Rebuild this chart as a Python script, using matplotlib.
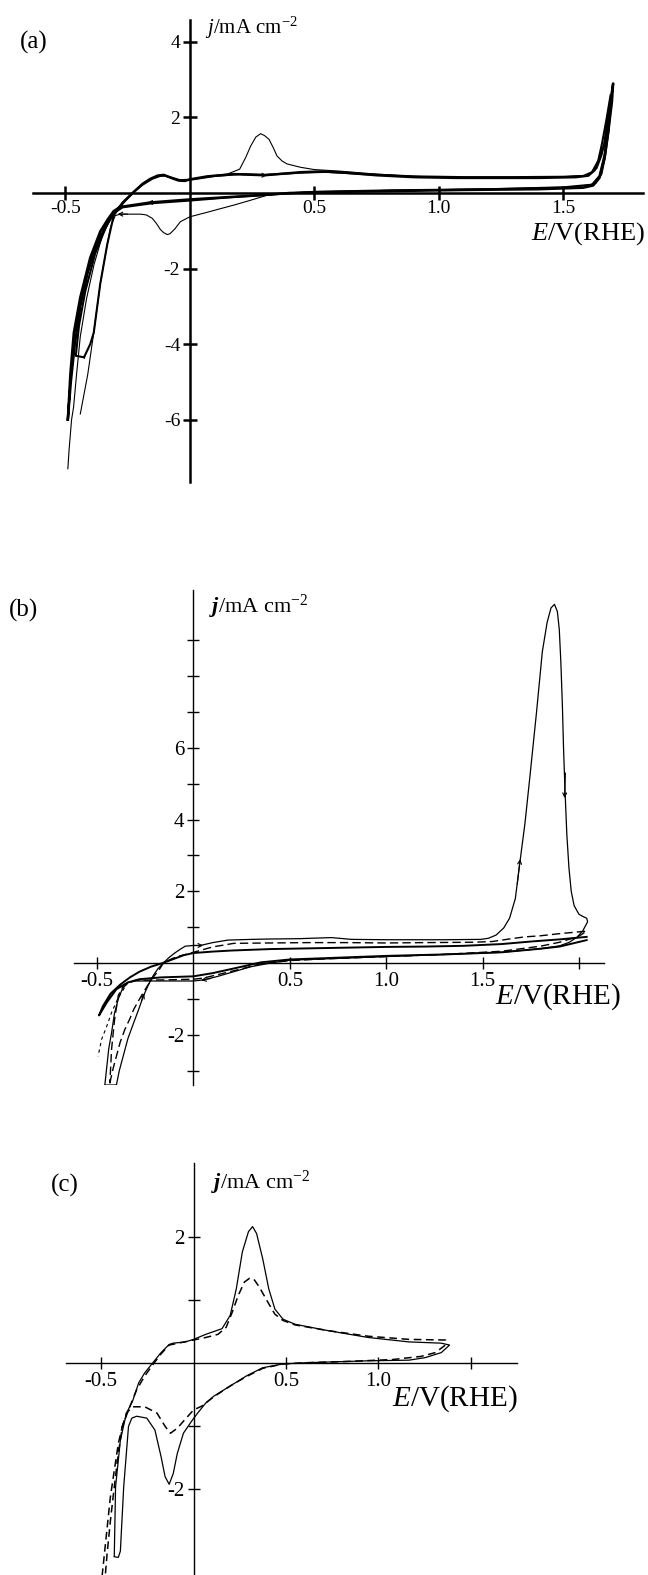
import matplotlib
matplotlib.use('Agg')
import matplotlib.pyplot as plt

plt.rcParams['font.family'] = ['Liberation Serif', 'DejaVu Serif']
plt.rcParams['mathtext.fontset'] = 'custom'
plt.rcParams['mathtext.rm'] = 'Liberation Serif'
plt.rcParams['mathtext.it'] = 'Liberation Serif:italic'
plt.rcParams['mathtext.bf'] = 'Liberation Serif:bold:italic'

# ---------------- panel (a) ----------------
# thick cycle 1 (anodic from left tip, then cathodic back)
a1_E = [-0.49, -0.478, -0.462, -0.44, -0.41, -0.37, -0.33, -0.30, -0.26, -0.225, -0.19, -0.16,
        -0.13, -0.105, -0.075, -0.045, -0.02, 0.0, 0.07, 0.177, 0.30, 0.445, 0.53, 0.62, 0.75,
        0.90, 1.07, 1.25, 1.40, 1.55, 1.60, 1.625, 1.645, 1.665, 1.68, 1.70,
        1.695, 1.68, 1.665, 1.645, 1.62, 1.58, 1.40, 1.10, 0.80, 0.50, 0.40, 0.284, 0.177,
        0.0, -0.158, -0.28, -0.306, -0.33, -0.36, -0.40, -0.44, -0.466, -0.48, -0.49]
a1_j = [-6.0, -5.0, -4.0, -3.0, -2.1, -1.3, -0.8, -0.5, -0.2, 0.03, 0.24, 0.37,
        0.46, 0.48, 0.40, 0.33, 0.32, 0.36, 0.44, 0.50, 0.47, 0.55, 0.57, 0.54, 0.47,
        0.42, 0.40, 0.40, 0.40, 0.42, 0.46, 0.6, 0.9, 1.3, 2.0, 2.9,
        2.4, 1.6, 0.9, 0.4, 0.2, 0.14, 0.10, 0.08, 0.05, 0.02, 0.0, -0.06, -0.10,
        -0.17, -0.25, -0.37, -0.48, -0.7, -1.02, -1.71, -2.76, -3.7, -4.8, -6.0]

# thick cycle 2 (turns at the kink near -4.3)
a2_E = [-0.425, -0.40, -0.386, -0.36, -0.332, -0.306, -0.27, -0.225, -0.19, -0.15, -0.12, -0.10,
        -0.07, -0.04, 0.0, 0.1, 0.2, 0.3, 0.45, 0.55, 0.7, 0.9, 1.1, 1.3, 1.5, 1.58, 1.615,
        1.64, 1.655, 1.672, 1.69,
        1.68, 1.665, 1.645, 1.615, 1.5, 1.2, 0.8, 0.5, 0.3, 0.15, 0.0, -0.15, -0.27, -0.31,
        -0.34, -0.38, -0.42, -0.445, -0.458, -0.425]
a2_j = [-4.35, -4.0, -3.7, -2.41, -1.37, -0.6, -0.25, 0.03, 0.22, 0.38, 0.45, 0.46,
        0.40, 0.34, 0.35, 0.45, 0.50, 0.48, 0.54, 0.56, 0.50, 0.44, 0.42, 0.42, 0.43, 0.45, 0.55,
        0.85, 1.3, 1.9, 2.6,
        1.8, 1.0, 0.45, 0.22, 0.15, 0.10, 0.07, 0.03, -0.05, -0.12, -0.2, -0.27, -0.38, -0.55,
        -0.95, -1.6, -2.6, -3.5, -4.31, -4.35]

# thin cycle with the sharp peaks
a3_E = [-0.49, -0.485, -0.475, -0.467, -0.455, -0.44, -0.415, -0.385, -0.35, -0.32, -0.29, -0.25,
        -0.225, -0.19, -0.15, -0.12, -0.10, -0.07, -0.035, 0.0, 0.07, 0.15, 0.2, 0.225, 0.244,
        0.265, 0.284, 0.30, 0.318, 0.335, 0.35, 0.37, 0.39, 0.445, 0.5, 0.6, 0.75, 0.9, 1.1,
        1.3, 1.5, 1.6, 1.635, 1.655, 1.672, 1.69,
        1.685, 1.67, 1.655, 1.63, 1.55, 1.2, 0.8, 0.5, 0.4, 0.31, 0.24, 0.177, 0.12, 0.07, 0.0,
        -0.038, -0.06, -0.08, -0.091, -0.105, -0.118, -0.135, -0.151, -0.175, -0.198, -0.28,
        -0.30, -0.318, -0.332, -0.36, -0.386, -0.41, -0.43, -0.44]
a3_j = [-7.3, -6.8, -6.0, -5.67, -4.8, -3.8, -2.8, -1.9, -1.1, -0.7, -0.4, -0.15,
        0.03, 0.25, 0.40, 0.46, 0.46, 0.39, 0.33, 0.36, 0.44, 0.5, 0.63, 0.95, 1.24,
        1.48, 1.57, 1.52, 1.42, 1.2, 0.98, 0.85, 0.77, 0.68, 0.62, 0.58, 0.5, 0.44, 0.41,
        0.41, 0.43, 0.47, 0.65, 1.0, 1.6, 2.4,
        1.7, 1.0, 0.5, 0.25, 0.16, 0.11, 0.07, 0.03, 0.0, -0.06, -0.2, -0.32, -0.42, -0.51, -0.63,
        -0.76, -0.95, -1.08, -1.10, -1.05, -0.97, -0.8, -0.67, -0.58, -0.56, -0.56,
        -0.6, -0.9, -1.37, -2.41, -3.7, -4.8, -5.5, -5.85]

# sweep-direction arrowheads (tail E, tail j, head E, head j)
a_arrows = [(0.27, 0.47, 0.31, 0.47), (-0.13, -0.24, -0.17, -0.26), (-0.25, -0.56, -0.29, -0.56)]

# ---------------- panel (b) ----------------
b1_E = [-0.40, -0.385, -0.365, -0.34, -0.31, -0.285, -0.26, -0.235, -0.21, -0.185, -0.156, -0.13,
        -0.10, -0.07, -0.043, 0.0, 0.035, 0.1, 0.178, 0.3, 0.393, 0.55, 0.715, 0.82, 1.0, 1.14,
        1.3, 1.49, 1.53, 1.57, 1.61, 1.64, 1.67, 1.69, 1.72, 1.745, 1.78, 1.81, 1.835, 1.855,
        1.873, 1.888, 1.898, 1.906, 1.914, 1.92, 1.927, 1.937, 1.948, 1.96, 1.975, 2.0, 2.02, 2.04,
        2.045, 2.02, 1.99, 1.95, 1.9, 1.8, 1.6, 1.4, 1.1, 0.8, 0.5, 0.4, 0.3, 0.21, 0.12, 0.05,
        0.0, -0.1, -0.2, -0.3, -0.34, -0.37, -0.39, -0.41, -0.425, -0.44, -0.45, -0.46, -0.40]
b1_j = [-3.4, -3.0, -2.6, -2.1, -1.66, -1.3, -0.92, -0.62, -0.36, -0.16, 0.0, 0.14,
        0.27, 0.38, 0.47, 0.49, 0.49, 0.57, 0.64, 0.66, 0.67, 0.68, 0.71, 0.66, 0.65, 0.65,
        0.65, 0.66, 0.69, 0.78, 0.98, 1.25, 1.8, 2.66, 3.9, 5.17, 7.0, 8.68, 9.5, 9.9,
        10.0, 9.8, 9.3, 8.4, 7.2, 6.0, 4.9, 3.6, 2.66, 2.0, 1.6, 1.36, 1.3, 1.25,
        1.15, 0.9, 0.72, 0.58, 0.48, 0.40, 0.30, 0.26, 0.2, 0.14, 0.08, 0.0, -0.1, -0.24, -0.38, -0.47,
        -0.5, -0.5, -0.5, -0.5, -0.54, -0.73, -1.0, -1.4, -1.94, -2.4, -2.9, -3.4, -3.4]

b2_E = [2.04, 1.9, 1.8, 1.6, 1.3, 1.0, 0.7, 0.5, 0.35, 0.21, 0.10, 0.0, -0.17, -0.28, -0.34,
        -0.40, -0.45, -0.49,
        -0.47, -0.43, -0.38, -0.33, -0.28, -0.22, -0.16, -0.10, -0.05, 0.0, 0.1, 0.2, 0.4, 0.6,
        0.8, 1.0, 1.2, 1.4, 1.6, 1.75, 1.9, 2.04]
b2_j = [0.64, 0.46, 0.40, 0.30, 0.24, 0.2, 0.14, 0.1, 0.02, -0.15, -0.28, -0.37, -0.40, -0.45, -0.54,
        -0.73, -1.1, -1.46,
        -1.2, -0.85, -0.6, -0.4, -0.24, -0.1, 0.0, 0.12, 0.22, 0.28, 0.32, 0.35, 0.39, 0.41,
        0.43, 0.45, 0.46, 0.48, 0.53, 0.6, 0.66, 0.73]

b3_E = [-0.434, -0.42, -0.40, -0.38, -0.356, -0.33, -0.31, -0.285, -0.26, -0.235, -0.21, -0.18,
        -0.156, -0.12, -0.087, -0.04, 0.0, 0.1, 0.21, 0.4, 0.6, 0.8, 1.0, 1.2, 1.45, 1.55, 1.65,
        1.72, 1.8, 1.9, 2.04,
        2.0, 1.9, 1.8, 1.6, 1.3, 1.0, 0.7, 0.5, 0.35, 0.22, 0.12, 0.05, 0.0, -0.15, -0.3, -0.36,
        -0.39, -0.41, -0.425, -0.434]
b3_j = [-3.35, -3.0, -2.6, -2.2, -1.85, -1.55, -1.29, -1.05, -0.82, -0.6, -0.4, -0.2,
        0.0, 0.1, 0.18, 0.24, 0.3, 0.45, 0.55, 0.56, 0.57, 0.57, 0.56, 0.57, 0.58, 0.6, 0.68,
        0.73, 0.76, 0.82, 0.89,
        0.75, 0.58, 0.47, 0.33, 0.24, 0.18, 0.12, 0.07, -0.02, -0.2, -0.33, -0.42, -0.45, -0.47,
        -0.48, -0.6, -0.9, -1.6, -2.4, -3.35]

b4_E = [-0.34, -0.39, -0.425, -0.45, -0.477, -0.495]
b4_j = [-0.54, -0.96, -1.38, -1.76, -2.13, -2.6]

b_arrows = [(0.0, 0.49, 0.05, 0.49), (1.68, 2.2, 1.695, 2.9), (1.93, 5.3, 1.925, 4.6),
            (0.09, -0.43, 0.04, -0.48), (-0.27, -1.05, -0.255, -0.85)]

# ---------------- panel (c) ----------------
c1_E = [-0.429, -0.422, -0.396, -0.363, -0.33, -0.297, -0.264, -0.22, -0.176, -0.132, -0.11,
        -0.044, 0.0, 0.066, 0.154, 0.198, 0.231, 0.264, 0.297, 0.319, 0.341, 0.374, 0.407,
        0.44, 0.484, 0.549, 0.725, 0.945, 1.165, 1.34, 1.385,
        1.34, 1.253, 1.165, 0.945, 0.615, 0.484, 0.374, 0.286, 0.198, 0.11, 0.066, 0.022,
        -0.011, -0.055, -0.088, -0.11, -0.132, -0.154, -0.176, -0.209, -0.253, -0.308, -0.334,
        -0.352, -0.378, -0.396, -0.407, -0.429]
c1_j = [-3.07, -1.97, -1.23, -0.80, -0.61, -0.32, -0.16, 0.0, 0.16, 0.29, 0.31,
        0.33, 0.37, 0.45, 0.54, 0.75, 1.17, 1.76, 2.08, 2.16, 2.05, 1.65, 1.17,
        0.85, 0.69, 0.61, 0.51, 0.40, 0.33, 0.31, 0.28,
        0.16, 0.08, 0.04, 0.03, 0.0, -0.02, -0.08, -0.21, -0.37, -0.53, -0.64, -0.80,
        -0.93, -1.12, -1.44, -1.76, -1.93, -1.81, -1.49, -1.07, -0.88, -0.85, -0.88,
        -1.01, -1.97, -2.99, -3.09, -3.08]

c2_E = [-0.495, -0.473, -0.45, -0.429, -0.407, -0.385, -0.352, -0.308, -0.264, -0.22, -0.176,
        -0.132, -0.066, 0.0, 0.066, 0.132, 0.176, 0.209, 0.242, 0.275, 0.303, 0.325, 0.356,
        0.396, 0.44, 0.484, 0.549, 0.725, 0.945, 1.165, 1.363,
        1.358, 1.308, 1.231, 1.077, 0.835, 0.615, 0.484, 0.374, 0.286, 0.198, 0.11, 0.044, 0.0,
        -0.055, -0.088, -0.125, -0.154, -0.198, -0.264, -0.33, -0.363, -0.385, -0.407, -0.429,
        -0.45, -0.468, -0.478]
c2_j = [-3.39, -2.77, -2.13, -1.71, -1.28, -1.01, -0.75, -0.43, -0.21, -0.03, 0.14,
        0.28, 0.32, 0.36, 0.40, 0.45, 0.56, 0.8, 1.07, 1.28, 1.34, 1.33, 1.2,
        0.99, 0.77, 0.67, 0.6, 0.51, 0.42, 0.37, 0.36,
        0.27, 0.16, 0.1, 0.05, 0.02, 0.0, -0.02, -0.09, -0.22, -0.37, -0.54, -0.69, -0.75,
        -0.93, -1.04, -1.12, -1.01, -0.8, -0.7, -0.7, -0.8, -1.01, -1.44, -1.97,
        -2.51, -3.04, -3.39]


def cv_axes(rect, xlim, ylim, lw, ticklen, labelsize, pad=2):
    ax = fig.add_axes(rect)
    ax.set_xlim(xlim)
    ax.set_ylim(ylim)
    ax.patch.set_visible(False)
    for s in ('top', 'right'):
        ax.spines[s].set_visible(False)
    for s in ('left', 'bottom'):
        ax.spines[s].set_position(('data', 0))
        ax.spines[s].set_linewidth(lw)
    ax.tick_params(direction='inout', length=ticklen, width=lw, labelsize=labelsize, pad=pad)
    return ax


def add_arrows(ax, arrows):
    for x0, y0, x1, y1 in arrows:
        ax.annotate('', xy=(x1, y1), xytext=(x0, y0),
                    arrowprops=dict(arrowstyle='->', color='black', lw=0.8,
                                    mutation_scale=7, shrinkA=0, shrinkB=0))


fig = plt.figure(figsize=(6.48, 15.75), dpi=100)

# (a)
ax = cv_axes([0.0509, 0.694, 0.9414, 0.2933], (-0.63, 1.82), (-7.65, 4.58), 1.8, 10, 14)
ax.set_xticks([-0.5, 0.5, 1.0, 1.5], ['-0.5', '0.5', '1.0', '1.5'])
ax.tick_params(axis='x', pad=0)
ax.set_yticks([-6, -4, -2, 2, 4], ['-6', '-4', '-2', '2', '4'])
ax.plot(a1_E, a1_j, color='black', lw=1.8)
ax.plot(a2_E, a2_j, color='black', lw=1.5)
ax.plot(a3_E, a3_j, color='black', lw=0.8)
add_arrows(ax, a_arrows)
fig.text(0.052, 0.9733, '(a)', fontsize=18, ha='center', va='center')
fig.text(0.316, 0.9822, r'$\mathit{j}$/mA cm$^{\mathregular{-2}}$', fontsize=15, ha='left', va='center')
fig.text(0.995, 0.8515, r'$\mathit{E}$/V(RHE)', fontsize=19, ha='right', va='center')

# (b)
ax = cv_axes([0.1142, 0.3111, 0.8179, 0.3143], (-0.62, 2.13), (-3.4, 10.4), 1.0, 9, 15)
ax.set_xticks([-0.5, 0.5, 1.0, 1.5, 2.0], ['-0.5', '0.5', '1.0', '1.5', ''])
b_ticks = [-3, -2, -1, 1, 2, 3, 4, 5, 6, 7, 8, 9]
ax.set_yticks(b_ticks, [str(t) if t in (-2, 2, 4, 6) else '' for t in b_ticks])
ax.plot(b1_E, b1_j, color='black', lw=0.9)
ax.plot(b2_E, b2_j, color='black', lw=1.4)
ax.plot(b3_E, b3_j, color='black', lw=1.0, dashes=(6, 3))
ax.plot(b4_E, b4_j, color='black', lw=0.8, dashes=(3, 3))
add_arrows(ax, b_arrows)
fig.text(0.0355, 0.6127, '(b)', fontsize=18, ha='center', va='center')
fig.text(0.3225, 0.6146, r'$\mathbf{j}$/mA cm$^{\mathregular{-2}}$', fontsize=16, ha='left', va='center')
fig.text(0.764, 0.3672, r'$\mathit{E}$/V(RHE)', fontsize=21, ha='left', va='center')

# (c)
ax = cv_axes([0.1019, 0.0, 0.696, 0.2616], (-0.69, 1.75), (-3.37, 3.17), 1.0, 9, 15)
ax.set_xticks([-0.5, 0.5, 1.0, 1.5], ['-0.5', '0.5', '1.0', ''])
ax.set_yticks([-2, -1, 1, 2], ['-2', '', '', '2'])
ax.plot(c1_E, c1_j, color='black', lw=0.9)
ax.plot(c2_E, c2_j, color='black', lw=1.1, dashes=(5, 3))
fig.text(0.1003, 0.2476, '(c)', fontsize=18, ha='center', va='center')
fig.text(0.3256, 0.2489, r'$\mathbf{j}$/mA cm$^{\mathregular{-2}}$', fontsize=16, ha='left', va='center')
fig.text(0.605, 0.1117, r'$\mathit{E}$/V(RHE)', fontsize=21, ha='left', va='center')

fig.savefig('out.png', dpi=100)
